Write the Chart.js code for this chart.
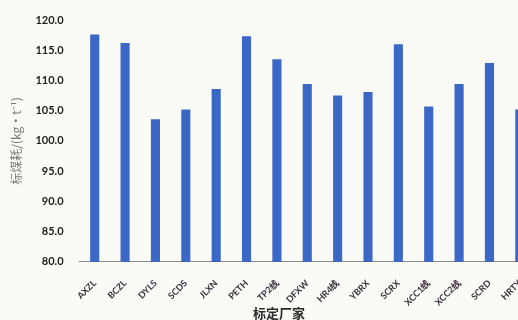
<!DOCTYPE html>
<html>
<head>
<meta charset="utf-8">
<script src="https://cdn.jsdelivr.net/npm/chart.js@4"></script>
<style>
body{margin:0;background:#fafaf6;}
#wrap{width:518px;height:320px;overflow:hidden;position:relative;}
#xtitle{position:absolute;left:252px;top:305px;width:54px;text-align:center;
font:bold 13px "Noto Sans CJK SC";color:#2a2a2a;line-height:16px;}
</style>
</head>
<body>
<div id="wrap"><canvas id="c" width="558" height="330"></canvas><div id="xtitle">标定厂家</div></div>
<script>
// plants and standard coal consumption
let plants=["AXZL","BCZL","DYLS","SCDS","JLXN","PETH","TP2线","DFXW","HR4线","YBRX","SCRX","XCC1线","XCC2线","SCRD","HRTY"]
let coal=[117.6,116.2,103.6,105.2,108.6,117.3,113.5,109.4,107.5,108.1,116.0,105.7,109.4,112.9,105.2]
let yTicks=[80,85,90,95,100,105,110,115,120]

new Chart(document.getElementById("c"),{
type:"bar",
data:{
labels:plants,
datasets:[{data:coal,backgroundColor:"#3b67c6",barPercentage:0.6,categoryPercentage:0.5}]
},
options:{
responsive:false,
animation:false,
layout:{padding:{top:20,right:23,left:5,bottom:14}},
plugins:{
legend:{display:false},
tooltip:{enabled:false}
},
scales:{
x:{
grid:{display:false},
border:{color:"#8a8a8a"},
ticks:{color:"#3a2f3c",maxRotation:45,minRotation:45,padding:8,
font:{family:"Lato",size:9,weight:"bold"}}
},
y:{
min:80,max:120,
afterBuildTicks:s=>{s.ticks=yTicks.map(v=>({value:v}))},
grid:{display:false},
border:{display:false},
ticks:{color:"#222",padding:8,callback:v=>v.toFixed(1),
font:{family:"Lato",size:11,weight:"bold"}},
title:{display:true,text:"标煤耗/(kg·t⁻¹)",color:"#777",
font:{family:"Noto Sans CJK SC",size:12},padding:{bottom:4}}
}
}
}
})
</script>
</body>
</html>
